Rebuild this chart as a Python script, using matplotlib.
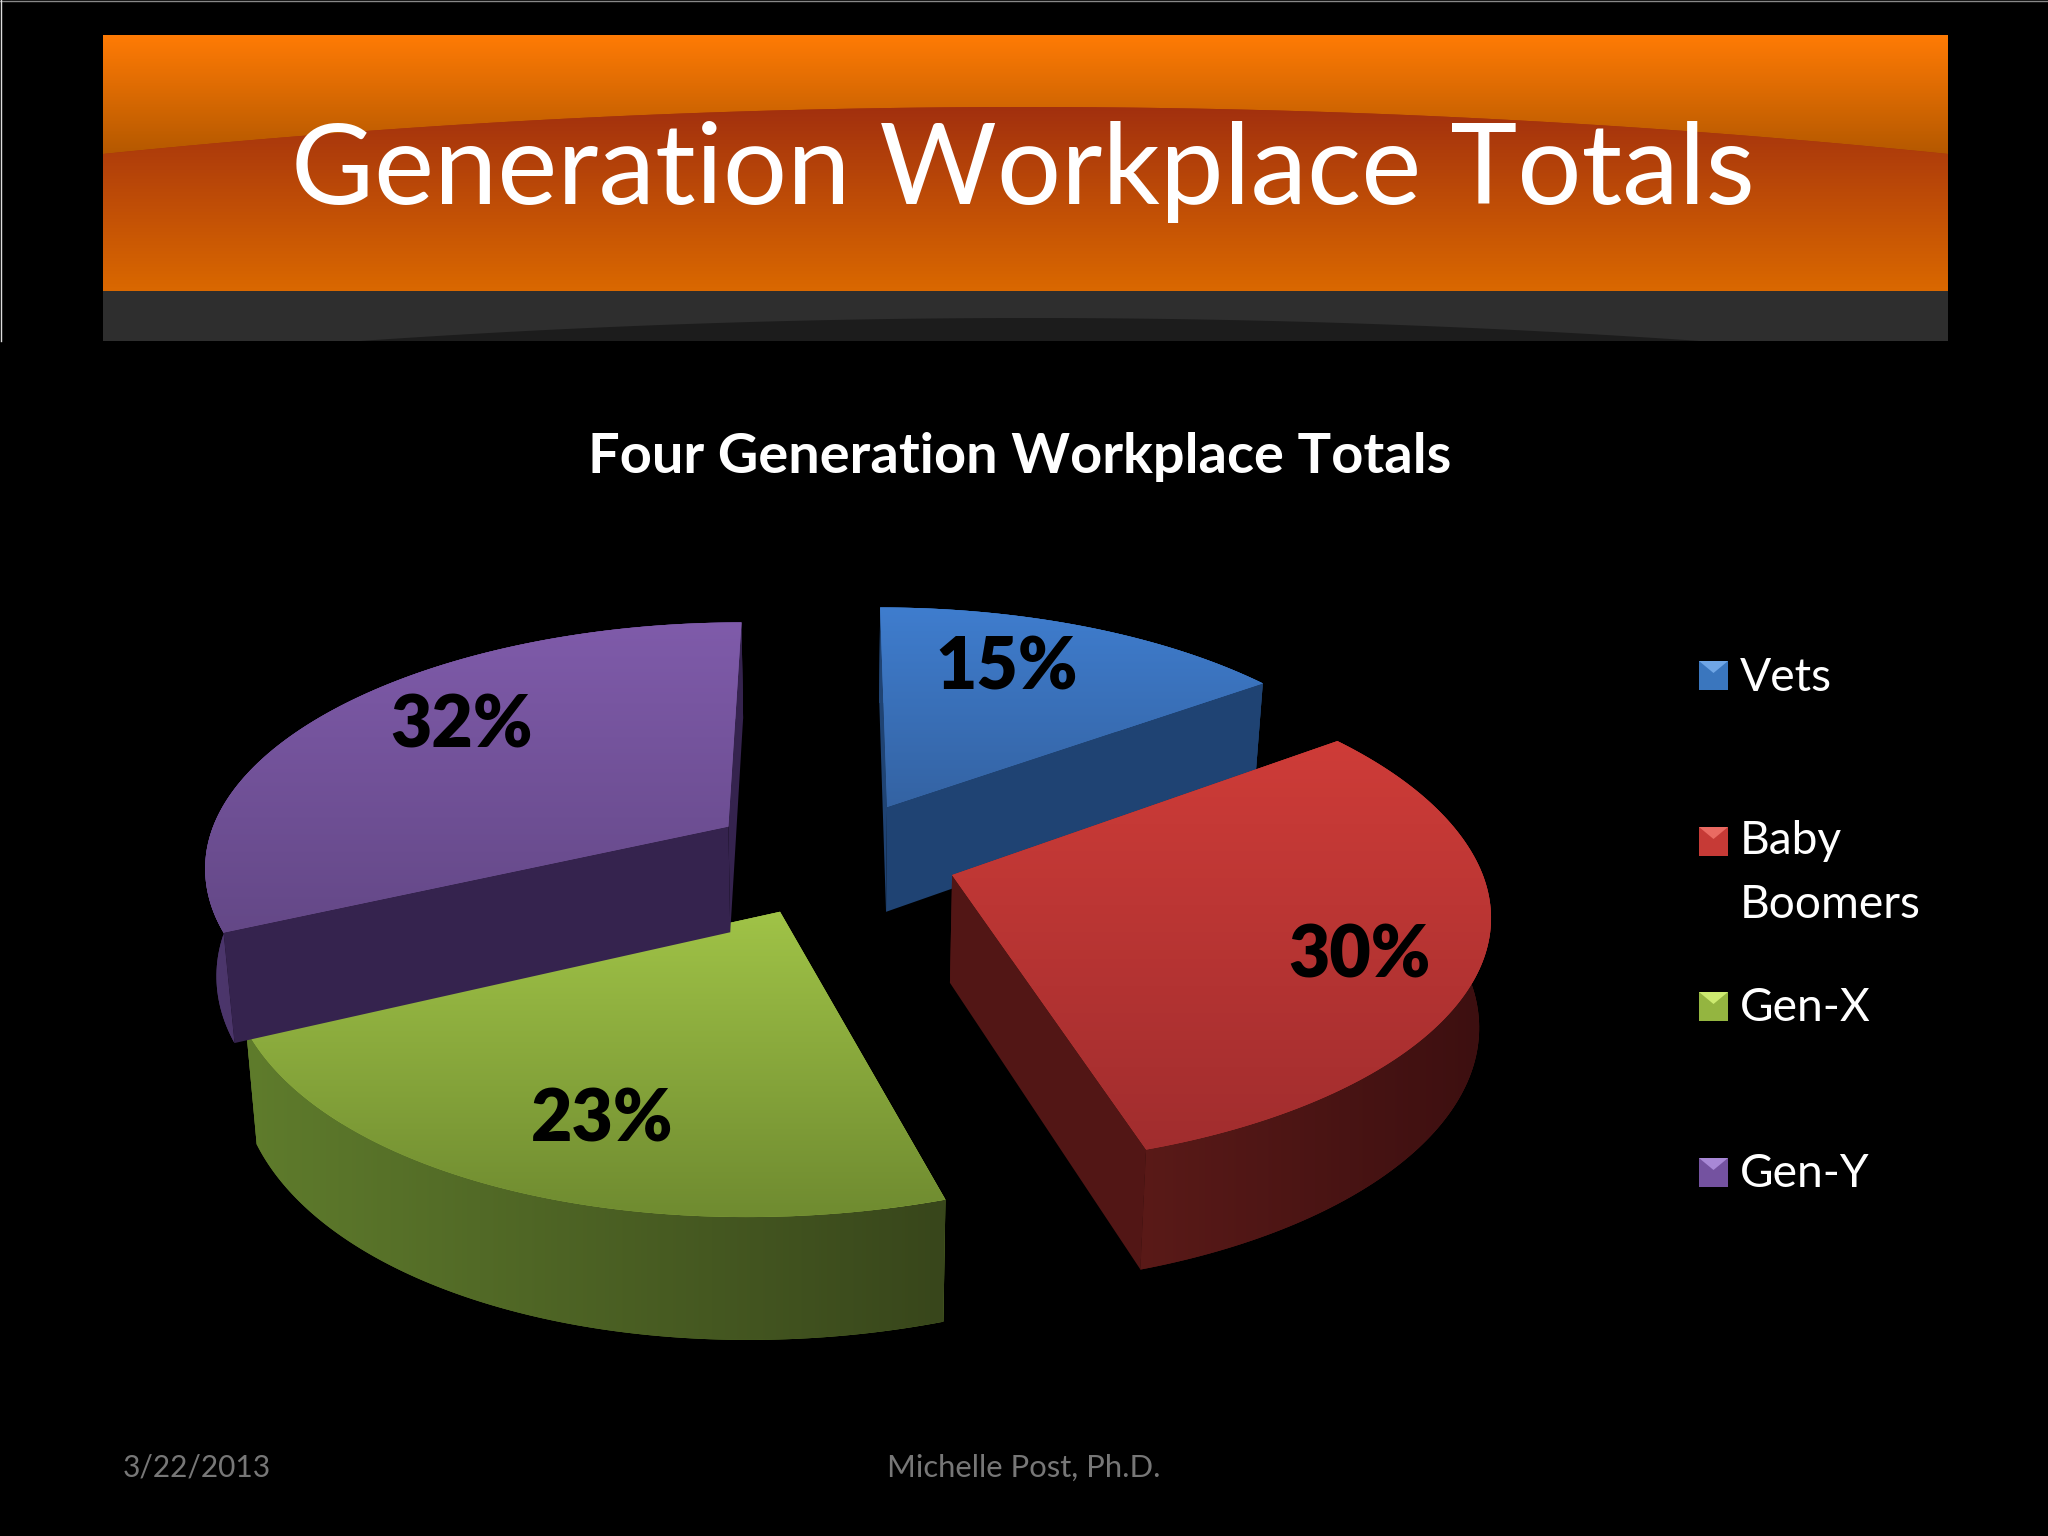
import numpy as np
import matplotlib
matplotlib.use("Agg")
import matplotlib.pyplot as plt
from matplotlib.patches import Polygon, Rectangle

plt.rcParams['font.family'] = ['Lato', 'DejaVu Sans']

# ---------- data ----------
categories = ["Vets", "Baby\nBoomers", "Gen-X", "Gen-Y"]
shares = [15, 30, 23, 32]
pct_labels = ["15%", "30%", "23%", "32%"]
main_title = "Generation Workplace Totals"
chart_title = "Four Generation Workplace Totals"
footer_date = "3/22/2013"
footer_name = "Michelle Post, Ph.D."

# ---------- styles (top start/end, outer wall start/end, radial wall) ----------
top_a = ["#3F7DCE", "#CE3C38", "#A0C347", "#7F5BAA"]
top_b = ["#3463A3", "#A12D2E", "#6F8B30", "#644887"]
outer_a = ["#234A7C", "#5A1A18", "#5F7C2C", "#4C366C"]
outer_b = ["#1D3D68", "#3C0F10", "#38461B", "#38264F"]
radial = ["#1F4373", "#521615", "#4A5E22", "#35234E"]
swatch = ["#3A76BE", "#C63A36", "#94B540", "#7452A0"]
swatch_hi = ["#6FA6E6", "#EA6A62", "#CDEB70", "#A888D6"]

fig = plt.figure(figsize=(20.48, 15.36), dpi=100, facecolor="black")
ax = fig.add_axes([0, 0, 1, 1])
ax.set_axis_off()
ax.set_xlim(0, 2048)
ax.set_ylim(1536, 0)
ax.set_autoscale_on(False)


def hexrgb(c):
    return np.array(matplotlib.colors.to_rgb(c))


def grad(a, b, extent, horizontal=False, clip=None, z=1, n=128):
    t = np.linspace(0, 1, n)
    rgb = hexrgb(a)[None, :] * (1 - t[:, None]) + hexrgb(b)[None, :] * t[:, None]
    img = rgb[None, :, :] if horizontal else rgb[:, None, :]
    im = ax.imshow(img, extent=(extent[0], extent[1], extent[3], extent[2]),
                   origin="upper", aspect="auto", zorder=z, interpolation="bilinear")
    if clip is not None:
        im.set_clip_path(clip)
    return im


def fill_grad(points, a, b, z, horizontal=False):
    pts = np.asarray(points)
    poly = Polygon(pts, closed=True, facecolor=a, edgecolor="none", zorder=z)
    ax.add_patch(poly)
    grad(a, b, (pts[:, 0].min(), pts[:, 0].max(), pts[:, 1].min(), pts[:, 1].max()),
         horizontal=horizontal, clip=poly, z=z)


# ---------- banner ----------
BL, BR, BT, BM, BB = 103, 1948, 35, 291, 341
xs = np.linspace(BL, BR, 200)
u = (xs - (BL + BR) / 2) / ((BR - BL) / 2)
curve = 107 + 47 * u ** 2
grad("#FF7B05", "#B45800", (BL, BR, BT, 155), z=1)
lower = Polygon(np.vstack([np.c_[xs, curve], [[BR, BM], [BL, BM]]]), closed=True,
                facecolor="#A5330F", edgecolor="none", zorder=2)
ax.add_patch(lower)
grad("#A2300E", "#DA6800", (BL, BR, 107, BM), clip=lower, z=2)
ax.add_patch(Rectangle((BL, BM), BR - BL, BB - BM, facecolor="#2E2E2E", edgecolor="none", zorder=2))
xs2 = np.linspace(360, 1700, 100)
u2 = (xs2 - 1030) / 670
ax.add_patch(Polygon(np.vstack([np.c_[xs2, 318 + 23 * u2 ** 2], [[1700, BB], [360, BB]]]), closed=True,
                     facecolor="#1C1C1C", edgecolor="none", zorder=2))
ax.plot([0, 2048], [0.5, 0.5], color="#888888", lw=1, zorder=3)
ax.plot([0.5, 0.5], [0, BB], color="#DDDDDD", lw=1, zorder=3)

ax.text(1023, 204, main_title, color="white", fontsize=81.7, ha="center", va="baseline", zorder=5)
ax.text(1020, 473, chart_title, color="white", fontsize=40.3, fontweight="bold",
        ha="center", va="baseline", zorder=5)
ax.text(123, 1477, footer_date, color="#777777", fontsize=21.5, ha="left", va="baseline", zorder=5)
ax.text(1024, 1477, footer_name, color="#777777", fontsize=22.3, ha="center", va="baseline", zorder=5)

# ---------- 3-D exploded pie, projected from the shares ----------
CX, CY = 832, 857
R = 525
F = 6.8 * R
K = 0.462
DEPTH = 107
EXPLODE = 125
NEAR_SKEW = 0.026


def project(x, y, z=0.0):
    s = F / (F + y)
    near = np.minimum(y, 0.0)
    return np.c_[CX + (x - NEAR_SKEW * near ** 2 / R) * s * (1 - 0.018 * z),
                 CY - y * K * s + z * s ** 0.7 * DEPTH]


fractions = np.array(shares) / sum(shares)
ends = np.cumsum(fractions) * 2 * np.pi
starts = ends - fractions * 2 * np.pi

for i in [0, 3, 1, 2]:
    t0, t1 = starts[i], ends[i]
    mid = (t0 + t1) / 2
    ox, oy = EXPLODE * np.sin(mid), EXPLODE * np.cos(mid)
    t = np.linspace(t0, t1, 120)
    ax_x, ax_y = ox + R * np.sin(t), oy + R * np.cos(t)
    arc_top = project(ax_x, ax_y, 0)
    arc_bot = project(ax_x, ax_y, 1)
    apex_top = project(np.array([ox]), np.array([oy]), 0)
    apex_bot = project(np.array([ox]), np.array([oy]), 1)
    zb = 10 + i
    far_side = np.cos(mid) > 0
    # the outer wall faces away on far slices, so it goes behind the radial walls
    z_outer = zb if far_side else zb + 0.2
    fill_grad(np.vstack([arc_top, arc_bot[::-1]]), outer_a[i], outer_b[i], z_outer, horizontal=True)
    ax.add_patch(Polygon(np.vstack([apex_top, arc_top[:1], arc_bot[:1], apex_bot]), closed=True,
                         facecolor=radial[i], edgecolor="none", zorder=zb + 0.1))
    ax.add_patch(Polygon(np.vstack([apex_top, arc_top[-1:], arc_bot[-1:], apex_bot]), closed=True,
                         facecolor=radial[i], edgecolor="none", zorder=zb + 0.1))
    fill_grad(np.vstack([apex_top, arc_top]), top_a[i], top_b[i], zb + 0.5)

label_xy = [(1007, 669), (1360, 957), (602, 1120), (462, 727)]
for lab, (lx, ly) in zip(pct_labels, label_xy):
    ax.text(lx, ly, lab, color="black", fontsize=51.5, fontweight="heavy",
            ha="center", va="center", zorder=20)

# ---------- legend ----------
legend_top = [661, 827, 992, 1158]
legend_base = [691, 854, 1021, 1187]
for i, cat in enumerate(categories):
    x0, x1 = 1699, 1728
    y0, y1 = legend_top[i], legend_top[i] + 29
    ax.add_patch(Polygon([(x0, y0), (x1, y0), (x1, y1), (x0, y1)], closed=True,
                         facecolor=swatch[i], edgecolor="none", zorder=6))
    ax.add_patch(Polygon([(x0, y0), (x1, y0), ((x0 + x1) / 2, y0 + 12)], closed=True,
                         facecolor=swatch_hi[i], edgecolor="none", zorder=7))
    for j, p in enumerate(cat.split("\n")):
        ax.text(1740, legend_base[i] + 64 * j, p, color="white", fontsize=33.2,
                ha="left", va="baseline", zorder=6)

fig.savefig("out.png", dpi=100, facecolor="black")
